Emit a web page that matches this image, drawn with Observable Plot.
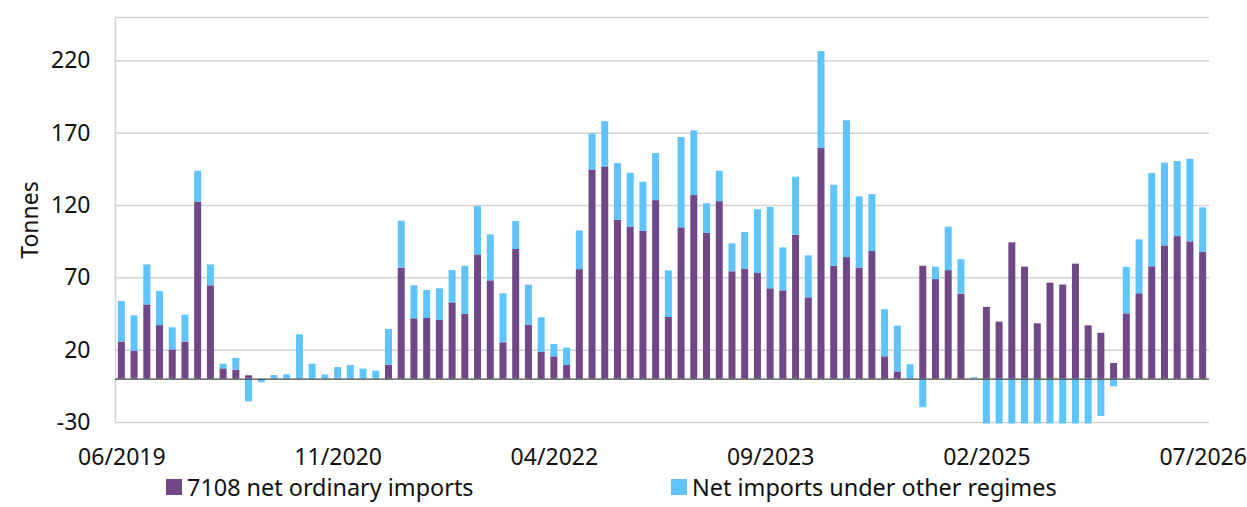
<!DOCTYPE html>
<html>
<head>
<meta charset="utf-8">
<script src="https://cdn.jsdelivr.net/npm/d3@7"></script>
<script src="https://cdn.jsdelivr.net/npm/@observablehq/plot@0.6"></script>
<style>
  html, body { margin: 0; padding: 0; background: #fff; }
  body { width: 1247px; height: 507px; overflow: hidden; font-family: "Noto Sans", sans-serif; color: #111; }
  #chart svg { display: block; }
  #legend { position: relative; height: 32px; font-size: 23.4px; }
  .item { position: absolute; top: -2px; display: flex; align-items: center; height: 28px; white-space: nowrap; }
  .sw { width: 16px; height: 16px; margin-right: 5px; }
</style>
</head>
<body>
<div id="chart"></div>
<div id="legend">
  <div class="item" style="left:166px"><span class="sw" style="background:#704787"></span>7108 net ordinary imports</div>
  <div class="item" style="left:671px"><span class="sw" style="background:#5ec4fb"></span>Net imports under other regimes</div>
</div>
<script>
const startMonth = "2019-06";
const monthCount = 86;
const tickLabels = ["06/2019", "11/2020", "04/2022", "09/2023", "02/2025", "07/2026"];
const seriesNames = ["7108 net ordinary imports", "Net imports under other regimes"];
const seriesColors = ["#704787", "#5ec4fb"];

const ordinary = [
  25.6, 19.3, 51.3, 37, 20.2, 25.6, 122.3, 64.5, 7.1, 6.2,
  2.3, 0, 0, 0, 0, 0, 0, 0, 0, 0,
  0, 9.7, 76.7, 41.7, 41.9, 40.5, 52.7, 44.7, 85.9, 67.9,
  25.1, 89.6, 37.3, 18.4, 15.4, 9.4, 75.7, 144.6, 146.7, 109.8,
  105.2, 102.2, 123.4, 42.6, 104.6, 126.9, 100.7, 122.7, 74.2, 76,
  73, 62.4, 61, 99.5, 56.2, 159.5, 78, 84, 76.7, 88.2,
  15.4, 5, 0, 78, 68.8, 75, 58.7, 0, 49.6, 39.4,
  94.2, 77.4, 38.2, 66.3, 65, 79.5, 36.8, 31.7, 10.8, 45.1,
  59, 77.6, 92.1, 98.5, 94.9, 87.5
];
const other = [
  28, 24.4, 27.7, 23.5, 15.3, 18.6, 21.4, 14.5, 3.2, 8.1,
  -15.7, -2.5, 2.5, 3, 30.6, 10.3, 2.8, 8, 9.4, 6.9,
  5.5, 24.6, 32.5, 22.8, 19.3, 21.9, 22.3, 33.3, 33.4, 31.8,
  33.9, 19.3, 27.7, 24, 8.5, 12, 26.7, 24.9, 31.3, 39.2,
  37.1, 33.9, 32.6, 32.2, 62.4, 44.7, 20.5, 21, 19.3, 25.3,
  44.1, 56.3, 29.7, 40.1, 29, 66.9, 56, 94.6, 49.3, 39.4,
  32.6, 31.6, 9.9, -19.8, 8.6, 30, 23.8, 1, -31, -31,
  -31, -31, -31, -31, -31, -31, -31, -25.8, -5.3, 32.1,
  37.3, 64.5, 57.2, 51.9, 57.1, 30.9
];
const yTicks = [-30, 20, 70, 120, 170, 220];

const fmt = d3.utcFormat("%m/%Y");
const start = d3.utcParse("%Y-%m")(startMonth);
const months = d3.utcMonth.range(start, d3.utcMonth.offset(start, monthCount)).map(fmt);

const rows = [];
months.forEach((m, i) => rows.push({month: m, value: ordinary[i], series: seriesNames[0]}));
months.forEach((m, i) => rows.push({month: m, value: other[i], series: seriesNames[1]}));

const chart = Plot.plot({
  width: 1247,
  height: 475,
  marginTop: 17,
  marginBottom: 53,
  marginLeft: 115,
  marginRight: 38,
  style: {fontFamily: "Noto Sans, sans-serif", color: "#111", background: "#fff"},
  x: {type: "band", domain: months, paddingInner: 0.45, paddingOuter: 0.225, align: 0.5},
  y: {domain: [-30, 250]},
  color: {domain: seriesNames, range: seriesColors},
  marks: [
    Plot.ruleY([...yTicks, 250], {stroke: "#d2d2d2", strokeWidth: 1.5}),
    Plot.frame({anchor: "left", stroke: "#d2d2d2", strokeWidth: 1.5}),
    Plot.barY(rows, {x: "month", y: "value", fill: "series", order: seriesNames}),
    Plot.ruleY([0], {stroke: "#444", strokeWidth: 1.3}),
    Plot.axisY({ticks: yTicks, tickSize: 0, tickPadding: 25, fontSize: 23, tickFormat: d => String(d),
      label: "Tonnes", labelAnchor: "center", labelOffset: 94, labelArrow: "none"}),
    Plot.axisX({ticks: tickLabels, tickSize: 0, tickPadding: 26, fontSize: 23, label: null})
  ]
});
document.getElementById("chart").appendChild(chart);
</script>
</body>
</html>
